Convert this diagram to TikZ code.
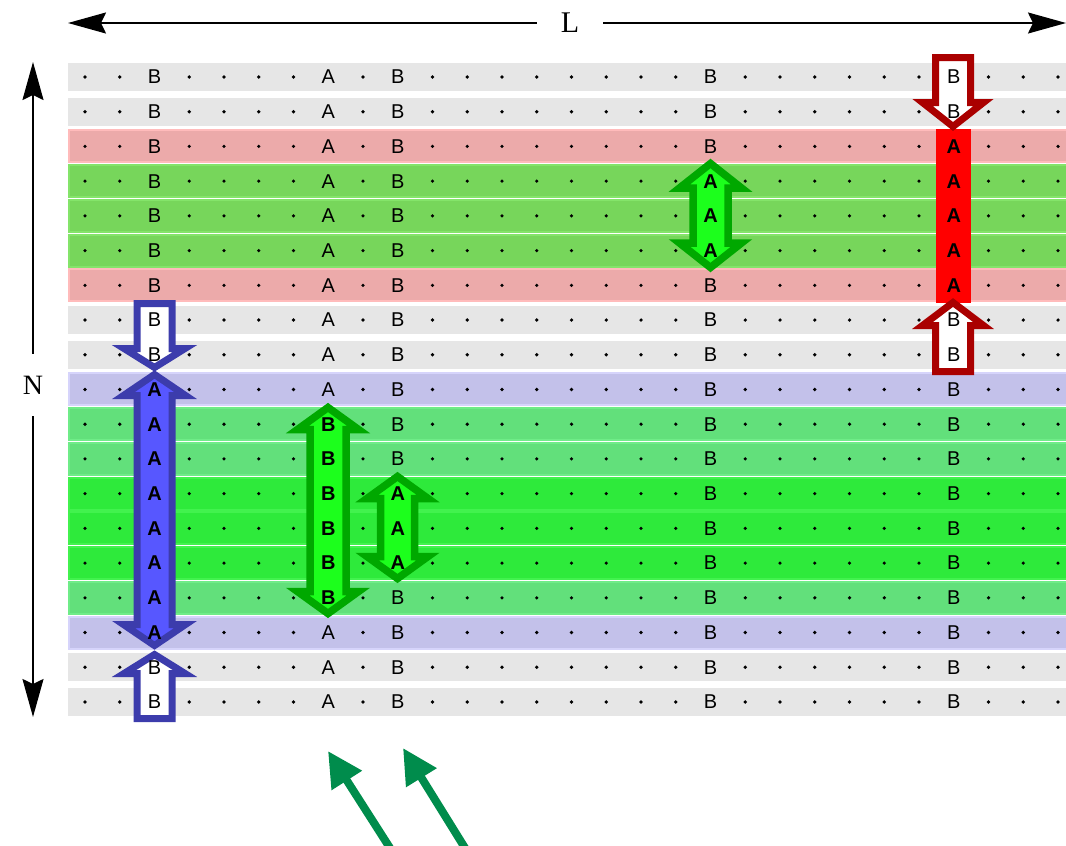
\documentclass[tikz,border=0pt]{standalone}
\usepackage{fontspec}
\setmainfont{Liberation Sans}
\newfontfamily\dimfont{Liberation Serif}
\newfontfamily\cellfont{Liberation Sans}
\usetikzlibrary{arrows.meta}

% row band colours (fill / lighter edge)
\definecolor{rowgray}{HTML}{E6E6E6}
\definecolor{fpink}{HTML}{ECAAAA}
\definecolor{epink}{HTML}{FFBBBB}
\definecolor{flg}{HTML}{77D65B}
\definecolor{elg}{HTML}{84E46A}
\definecolor{flav}{HTML}{C3C1EA}
\definecolor{elav}{HTML}{D6D4FB}
\definecolor{fmg}{HTML}{62E07B}
\definecolor{emg}{HTML}{6FEC88}
\definecolor{fbg}{HTML}{2EEA3B}
\definecolor{ebg}{HTML}{42F24E}
% arrow colours
\definecolor{redline}{HTML}{AA0000}
\definecolor{blueline}{HTML}{3C3CAC}
\definecolor{bluefill}{HTML}{5757FF}
\definecolor{greenline}{HTML}{00A800}
\definecolor{greenfill}{HTML}{1CFF1C}
\definecolor{pointer}{HTML}{008C4C}

% column / row centres
\newcommand\cx[1]{85+(#1-1)*34.75}
\newcommand\ry[1]{77+(#1-1)*34.72}

% vertical double-headed block arrow: x, top tip, bottom tip, head length, shaft half, head half, style
\newcommand\dblarrow[7]{%
  \draw[#7] (#1,#2) -- ({#1+#6},{#2+#4}) -- ({#1+#5},{#2+#4}) -- ({#1+#5},{#3-#4})
    -- ({#1+#6},{#3-#4}) -- (#1,#3) -- ({#1-#6},{#3-#4}) -- ({#1-#5},{#3-#4})
    -- ({#1-#5},{#2+#4}) -- ({#1-#6},{#2+#4}) -- cycle;}
% vertical single block arrow: x, tail, head base, tip, shaft half, head half, style
\newcommand\blockarrow[7]{%
  \draw[#7] ({#1-#5},#2) -- ({#1+#5},#2) -- ({#1+#5},#3) -- ({#1+#6},#3) -- (#1,#4)
    -- ({#1-#6},#3) -- ({#1-#5},#3) -- cycle;}
% a run of identical letters down one column
\newcommand\run[5]{\foreach \r in {#2,...,#3}
  \node[#5] (t-#1-\r) at ({\cx{#1}},{\ry{\r}}) {#4};}

\tikzset{
  gbar/.style={draw=greenline, fill=greenfill, line width=7.5pt},
  bbar/.style={draw=blueline, fill=bluefill, line width=7pt},
  rshell/.style={draw=redline, fill=white, line width=7pt},
  bshell/.style={draw=blueline, fill=white, line width=7pt},
  cell/.style={inner sep=0pt, font=\cellfont\fontsize{20pt}{20pt}\selectfont},
  hot/.style={inner sep=0pt, font=\cellfont\fontsize{20pt}{20pt}\selectfont\bfseries},
  dimarrow/.style={line width=1.8pt, -{Stealth[length=38pt,width=21pt,inset=5pt]}},
  pointerarrow/.style={draw=pointer, line width=8pt, -{Triangle[length=35pt,width=34pt]}},
}

\begin{document}
\begin{tikzpicture}[x=1pt,y=-1pt]
\useasboundingbox (0,0) rectangle (1066,846);

% row bands
\foreach \r in {1,2,8,9,18,19}
  \fill[rowgray] (68,{\ry{\r}-14}) rectangle (1066,{\ry{\r}+14});
\foreach \r/\k in {3/pink,7/pink,4/lg,5/lg,6/lg,10/lav,17/lav,11/mg,12/mg,16/mg,13/bg,14/bg,15/bg}
  \filldraw[fill=f\k, draw=e\k, line width=2pt] (69,{\ry{\r}-16}) rectangle (1067,{\ry{\r}+16});

% red column with its two hollow arrows
\fill[red] (936,129) rectangle (971,303);
\blockarrow{953}{57.5}{102.5}{126.5}{17.5}{30.5}{rshell}
\blockarrow{953}{371.5}{325.5}{302.5}{17.5}{30.5}{rshell}

% blue column with its two hollow arrows
\blockarrow{154.5}{303.5}{348.5}{367.5}{17.5}{30.5}{bshell}
\blockarrow{154.5}{718.5}{673.5}{654.5}{17.5}{30.5}{bshell}
\dblarrow{154.5}{374.5}{645.5}{21}{17.5}{31}{bbar}

% green double arrows
\dblarrow{328}{407.5}{613.5}{22}{18}{30.5}{gbar}
\dblarrow{397.5}{476.5}{578.5}{22}{17}{30.5}{gbar}
\dblarrow{710.5}{163.5}{267.5}{24.5}{17.5}{31}{gbar}

% dots
\foreach \c in {1,2,4,5,6,7,9,11,12,13,14,15,16,17,18,20,21,22,23,24,25,27,28,29}
  \foreach \r in {1,...,19}
    \fill ({\cx{\c}},{\ry{\r}}) circle (1.8);

% letters
\run{3}{1}{9}{B}{cell}
\run{3}{10}{17}{A}{hot}
\run{3}{18}{19}{B}{cell}
\run{8}{1}{10}{A}{cell}
\run{8}{11}{16}{B}{hot}
\run{8}{17}{19}{A}{cell}
\run{10}{1}{12}{B}{cell}
\run{10}{13}{15}{A}{hot}
\run{10}{16}{19}{B}{cell}
\run{19}{1}{3}{B}{cell}
\run{19}{4}{6}{A}{hot}
\run{19}{7}{19}{B}{cell}
\run{26}{1}{2}{B}{cell}
\run{26}{3}{7}{A}{hot}
\run{26}{8}{19}{B}{cell}

% dimension arrows
\node[font=\dimfont\fontsize{30}{30}\selectfont, inner xsep=24pt, inner ysep=0pt] (L) at (570,23) {L};
\coordinate (Lw) at (68,23);
\coordinate (Le) at (1066,23);
\draw[dimarrow] (L) -- (Lw);
\draw[dimarrow] (L) -- (Le);

\node[font=\dimfont\fontsize{28}{28}\selectfont, inner ysep=22pt, inner xsep=0pt] (N) at (33,385) {N};
\coordinate (Nn) at (33,62);
\coordinate (Ns) at (33,717);
\draw[dimarrow] (N) -- (Nn);
\draw[dimarrow] (N) -- (Ns);

% pointers
\coordinate (p1a) at (390,848);
\coordinate (p1b) at (328,751);
\coordinate (p2a) at (465,848);
\coordinate (p2b) at (403,748);
\draw[pointerarrow] (p1a) -- (p1b);
\draw[pointerarrow] (p2a) -- (p2b);
\end{tikzpicture}
\end{document}
